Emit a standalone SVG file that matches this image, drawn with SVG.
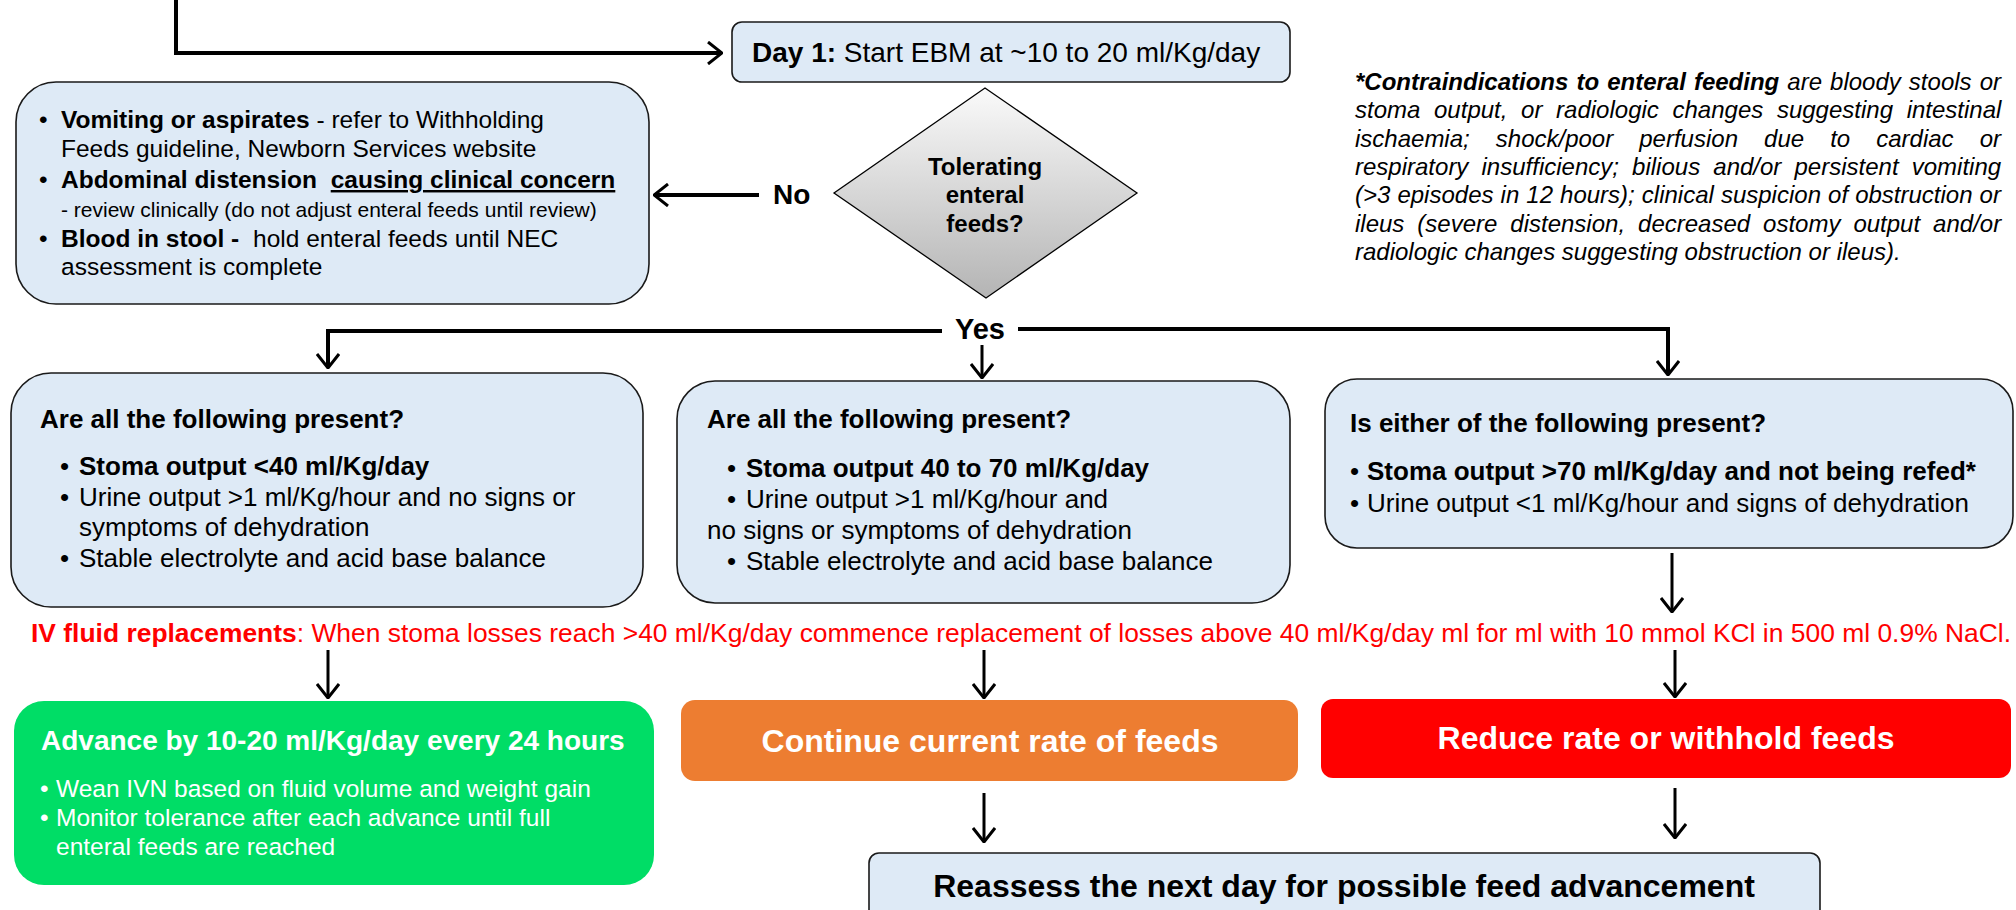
<svg xmlns="http://www.w3.org/2000/svg" width="2016" height="910" viewBox="0 0 2016 910">
<style>
text{font-family:"Liberation Sans",Arial,sans-serif;fill:#000}
.b{font-weight:bold}
.box{fill:#DEEAF6;stroke:#1a1a1a;stroke-width:1.6}
.ln{fill:none;stroke:#000;stroke-width:4}
.lt{fill:none;stroke:#000;stroke-width:3}
.t24{font-size:24.5px}
.t26{font-size:26px}
.w{fill:#fff}
.ci{font-size:24px;font-style:italic}
</style>
<defs>
<marker id="ah" viewBox="0 0 16 24" markerWidth="16" markerHeight="24" refX="15" refY="12" orient="auto" markerUnits="userSpaceOnUse">
<path d="M1,1 L15,12 L1,23" fill="none" stroke="#000" stroke-width="3"/>
</marker>
<linearGradient id="dg" x1="0" y1="0" x2="0" y2="1">
<stop offset="0" stop-color="#fafafa"/>
<stop offset="1" stop-color="#b4b4b4"/>
</linearGradient>
</defs>

<g id="connectors">
<path class="ln" d="M176,0 V53 H722" marker-end="url(#ah)"/>
<path class="ln" d="M759,195 H654" marker-end="url(#ah)"/>
<path class="ln" d="M942,331 H328 V368" marker-end="url(#ah)"/>
<path class="ln" d="M1018,329 H1668 V375" marker-end="url(#ah)"/>
<path class="lt" d="M982,345 V378" marker-end="url(#ah)"/>
<path class="lt" d="M1672,553 V612" marker-end="url(#ah)"/>
<path class="lt" d="M328,650 V698" marker-end="url(#ah)"/>
<path class="lt" d="M984,650 V698" marker-end="url(#ah)"/>
<path class="lt" d="M1675,650 V697" marker-end="url(#ah)"/>
<path class="lt" d="M984,793 V842" marker-end="url(#ah)"/>
<path class="lt" d="M1675,788 V838" marker-end="url(#ah)"/>
<text class="b" x="773" y="204" font-size="28">No</text>
<text class="b" x="955" y="339" font-size="29">Yes</text>
</g>

<g id="day1">
<rect class="box" x="732" y="22" width="558" height="60" rx="10"/>
<text x="752" y="62" font-size="28"><tspan class="b">Day 1:</tspan> Start EBM at ~10 to 20 ml/Kg/day</text>
</g>

<g id="not-tolerating">
<rect class="box" x="16" y="82" width="633" height="222" rx="40"/>
<text class="t24" x="39" y="128">•</text>
<text class="t24" x="61" y="128"><tspan class="b">Vomiting or aspirates</tspan> - refer to Withholding</text>
<text class="t24" x="61" y="157">Feeds guideline, Newborn Services website</text>
<text class="t24" x="39" y="188">•</text>
<text class="t24 b" x="61" y="188">Abdominal distension <tspan dx="7" text-decoration="underline">causing clinical concern</tspan></text>
<text x="61" y="217" font-size="21">- review clinically (do not adjust enteral feeds until review)</text>
<text class="t24" x="39" y="247">•</text>
<text class="t24" x="61" y="247"><tspan class="b">Blood in stool -</tspan> <tspan dx="7">hold enteral feeds until NEC</tspan></text>
<text class="t24" x="61" y="275">assessment is complete</text>
</g>

<g id="tolerating">
<polygon points="985,88 1137,193 986,298 834,193" fill="url(#dg)" stroke="#000" stroke-width="1.3"/>
<text class="b" x="985" y="175" font-size="24" text-anchor="middle">Tolerating</text>
<text class="b" x="985" y="203" font-size="24" text-anchor="middle">enteral</text>
<text class="b" x="985" y="232" font-size="24" text-anchor="middle">feeds?</text>
</g>

<g id="contraindications">
<text class="ci" x="1355" y="90" word-spacing="1.4"><tspan class="b">*Contraindications to enteral feeding</tspan> are bloody stools or</text>
<text class="ci" x="1355" y="118" word-spacing="7">stoma output, or radiologic changes suggesting intestinal</text>
<text class="ci" x="1355" y="147" word-spacing="19.4">ischaemia; shock/poor perfusion due to cardiac or</text>
<text class="ci" x="1355" y="175" word-spacing="6.5">respiratory insufficiency; bilious and/or persistent vomiting</text>
<text class="ci" x="1355" y="203" word-spacing="0.4">(&gt;3 episodes in 12 hours); clinical suspicion of obstruction or</text>
<text class="ci" x="1355" y="232" word-spacing="6.3">ileus (severe distension, decreased ostomy output and/or</text>
<text class="ci" x="1355" y="260">radiologic changes suggesting obstruction or ileus).</text>
</g>

<g id="low-output">
<rect class="box" x="11" y="373" width="632" height="234" rx="40"/>
<text class="t26 b" x="40" y="428">Are all the following present?</text>
<text class="t26" x="60" y="475">•</text>
<text class="t26 b" x="79" y="475">Stoma output &lt;40 ml/Kg/day</text>
<text class="t26" x="60" y="506">•</text>
<text class="t26" x="79" y="506">Urine output &gt;1 ml/Kg/hour and no signs or</text>
<text class="t26" x="79" y="536">symptoms of dehydration</text>
<text class="t26" x="60" y="567">•</text>
<text class="t26" x="79" y="567">Stable electrolyte and acid base balance</text>
</g>

<g id="mid-output">
<rect class="box" x="677" y="381" width="613" height="222" rx="38"/>
<text class="t26 b" x="707" y="428">Are all the following present?</text>
<text class="t26" x="727" y="477">•</text>
<text class="t26 b" x="746" y="477">Stoma output 40 to 70 ml/Kg/day</text>
<text class="t26" x="727" y="508">•</text>
<text class="t26" x="746" y="508">Urine output &gt;1 ml/Kg/hour and</text>
<text class="t26" x="707" y="539">no signs or symptoms of dehydration</text>
<text class="t26" x="727" y="570">•</text>
<text class="t26" x="746" y="570">Stable electrolyte and acid base balance</text>
</g>

<g id="high-output">
<rect class="box" x="1325" y="379" width="688" height="169" rx="32"/>
<text class="t26 b" x="1350" y="432">Is either of the following present?</text>
<text class="t26" x="1350" y="480">•</text>
<text class="t26 b" x="1367" y="480">Stoma output &gt;70 ml/Kg/day and not being refed*</text>
<text class="t26" x="1350" y="512">•</text>
<text class="t26" x="1367" y="512">Urine output &lt;1 ml/Kg/hour and signs of dehydration</text>
</g>

<g id="iv-fluid">
<text x="31" y="642" font-size="26.4" textLength="1980" lengthAdjust="spacing" style="fill:#FF0000"><tspan class="b" style="fill:#FF0000">IV fluid replacements</tspan>: When stoma losses reach &gt;40 ml/Kg/day commence replacement of losses above 40 ml/Kg/day ml for ml with 10 mmol KCl in 500 ml 0.9% NaCl.</text>
</g>

<g id="advance">
<rect x="14" y="701" width="640" height="184" rx="30" fill="#00DD66"/>
<text class="b w" x="41" y="750" font-size="28">Advance by 10-20 ml/Kg/day every 24 hours</text>
<text class="t24 w" x="40" y="797">•</text>
<text class="t24 w" x="56" y="797">Wean IVN based on fluid volume and weight gain</text>
<text class="t24 w" x="40" y="826">•</text>
<text class="t24 w" x="56" y="826">Monitor tolerance after each advance until full</text>
<text class="t24 w" x="56" y="855">enteral feeds are reached</text>
</g>

<g id="continue">
<rect x="681" y="700" width="617" height="81" rx="14" fill="#ED7D31"/>
<text class="b w" x="990" y="752" font-size="32" text-anchor="middle">Continue current rate of feeds</text>
</g>

<g id="reduce">
<rect x="1321" y="699" width="690" height="79" rx="12" fill="#FF0000"/>
<text class="b w" x="1666" y="749" font-size="32" text-anchor="middle">Reduce rate or withhold feeds</text>
</g>

<g id="reassess">
<rect class="box" x="869" y="853" width="951" height="90" rx="10"/>
<text class="b" x="1344" y="897" font-size="32" text-anchor="middle">Reassess the next day for possible feed advancement</text>
</g>
</svg>
